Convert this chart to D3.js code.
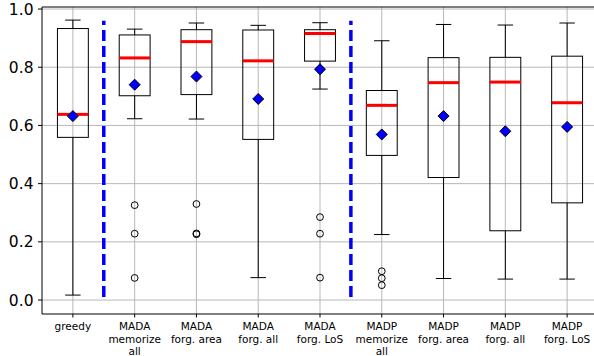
<!DOCTYPE html>
<html>
<head>
<meta charset="utf-8">
<script src="https://cdn.jsdelivr.net/npm/d3@7"></script>
<style>
  html, body { margin: 0; padding: 0; background: #fff; }
  svg { display: block; font-family: "DejaVu Sans", sans-serif; }
</style>
</head>
<body>
<svg id="chart" width="594" height="356"></svg>
<script>
const categories = [
  ["greedy"],
  ["MADA", "memorize", "all"],
  ["MADA", "forg. area"],
  ["MADA", "forg. all"],
  ["MADA", "forg. LoS"],
  ["MADP", "memorize", "all"],
  ["MADP", "forg. area"],
  ["MADP", "forg. all"],
  ["MADP", "forg. LoS"]
];
const whiskerLow  = [0.017, 0.623, 0.622, 0.077, 0.725, 0.225, 0.074, 0.072, 0.072];
const q1          = [0.559, 0.702, 0.706, 0.552, 0.821, 0.497, 0.421, 0.238, 0.334];
const medians     = [0.638, 0.832, 0.888, 0.822, 0.916, 0.669, 0.747, 0.749, 0.678];
const q3          = [0.933, 0.911, 0.929, 0.928, 0.929, 0.720, 0.833, 0.834, 0.838];
const whiskerHigh = [0.962, 0.931, 0.952, 0.944, 0.953, 0.891, 0.947, 0.945, 0.952];
const means       = [0.632, 0.740, 0.768, 0.691, 0.793, 0.569, 0.632, 0.580, 0.595];
const outliers    = [
  [],
  [0.326, 0.228, 0.076],
  [0.330, 0.229, 0.226],
  [],
  [0.285, 0.228, 0.077],
  [0.099, 0.075, 0.051],
  [], [], []
];
const dividerAfter = [0, 4];        // dashed separators after these category indices
const dividerRange = [0.01, 0.96];
const yTicks = [0.0, 0.2, 0.4, 0.6, 0.8, 1.0];

(function () {
const svg = d3.select("#chart");
const pl = 42, pr = 598, pt = 7, pb = 314;

const keys = categories.map((c, i) => i);
const x = d3.scaleBand().domain(keys).range([pl, pr]).padding(0);
const bw = x.bandwidth();
const cx = i => x(i) + bw / 2;
const y = d3.scaleLinear().domain([-0.048, 1.007]).range([pb, pt]);

// grid
const grid = svg.append("g");
grid.selectAll("line.h").data(yTicks).join("line")
  .attr("x1", pl).attr("x2", pr)
  .attr("y1", d => y(d)).attr("y2", d => y(d))
  .attr("stroke", "#b0b0b0").attr("stroke-width", 0.9);
grid.selectAll("line.v").data(keys).join("line")
  .attr("x1", d => cx(d)).attr("x2", d => cx(d))
  .attr("y1", pt).attr("y2", pb)
  .attr("stroke", "#b0b0b0").attr("stroke-width", 0.9);

// boxes
const boxW = bw * 0.5, capW = bw * 0.25;
const g = svg.append("g");
keys.forEach(i => {
  const c = cx(i);
  g.append("line").attr("x1", c).attr("x2", c).attr("y1", y(q1[i])).attr("y2", y(whiskerLow[i]))
    .attr("stroke", "#000").attr("stroke-width", 1);
  g.append("line").attr("x1", c).attr("x2", c).attr("y1", y(q3[i])).attr("y2", y(whiskerHigh[i]))
    .attr("stroke", "#000").attr("stroke-width", 1);
  g.append("line").attr("x1", c - capW / 2).attr("x2", c + capW / 2)
    .attr("y1", y(whiskerLow[i])).attr("y2", y(whiskerLow[i])).attr("stroke", "#000").attr("stroke-width", 1);
  g.append("line").attr("x1", c - capW / 2).attr("x2", c + capW / 2)
    .attr("y1", y(whiskerHigh[i])).attr("y2", y(whiskerHigh[i])).attr("stroke", "#000").attr("stroke-width", 1);
  g.append("rect").attr("x", c - boxW / 2).attr("width", boxW)
    .attr("y", y(q3[i])).attr("height", y(q1[i]) - y(q3[i]))
    .attr("fill", "none").attr("stroke", "#000").attr("stroke-width", 1);
  g.append("line").attr("x1", c - boxW / 2).attr("x2", c + boxW / 2)
    .attr("y1", y(medians[i])).attr("y2", y(medians[i]))
    .attr("stroke", "#ff0000").attr("stroke-width", 3);
  outliers[i].forEach(v => {
    g.append("circle").attr("cx", c).attr("cy", y(v)).attr("r", 3.4)
      .attr("fill", "none").attr("stroke", "#000").attr("stroke-width", 1);
  });
  const m = y(means[i]), s = 5.5;
  g.append("path").attr("d", `M${c},${m - s}L${c + s},${m}L${c},${m + s}L${c - s},${m}Z`)
    .attr("fill", "#0000ff").attr("stroke", "#000").attr("stroke-width", 1);
});

// dividers
svg.append("g").selectAll("line").data(dividerAfter).join("line")
  .attr("x1", d => x(d) + bw).attr("x2", d => x(d) + bw)
  .attr("y1", y(dividerRange[0])).attr("y2", y(dividerRange[1]))
  .attr("stroke", "#0000ff").attr("stroke-width", 3.5)
  .attr("stroke-dasharray", "11,5");

// spines
svg.append("path").attr("d", `M${pr},${pt}H${pl}V${pb}H${pr}`)
  .attr("fill", "none").attr("stroke", "#000").attr("stroke-width", 1);

// y axis
const ya = svg.append("g");
yTicks.forEach(t => {
  ya.append("line").attr("x1", pl - 4).attr("x2", pl).attr("y1", y(t)).attr("y2", y(t))
    .attr("stroke", "#000").attr("stroke-width", 1);
  ya.append("text").attr("x", pl - 8.5).attr("y", y(t)).attr("dy", "0.36em")
    .attr("text-anchor", "end").attr("font-size", 15.5).attr("fill", "#000")
    .text(t.toFixed(1));
});

// x axis
const xa = svg.append("g");
keys.forEach(i => {
  xa.append("line").attr("x1", cx(i)).attr("x2", cx(i)).attr("y1", pb).attr("y2", pb + 3.5)
    .attr("stroke", "#000").attr("stroke-width", 1);
  const t = xa.append("text").attr("text-anchor", "middle").attr("font-size", 10.5).attr("fill", "#000");
  categories[i].forEach((line, k) => {
    t.append("tspan").attr("x", cx(i)).attr("y", 330 + k * 12.6).text(line);
  });
});
})();
</script>
</body>
</html>
